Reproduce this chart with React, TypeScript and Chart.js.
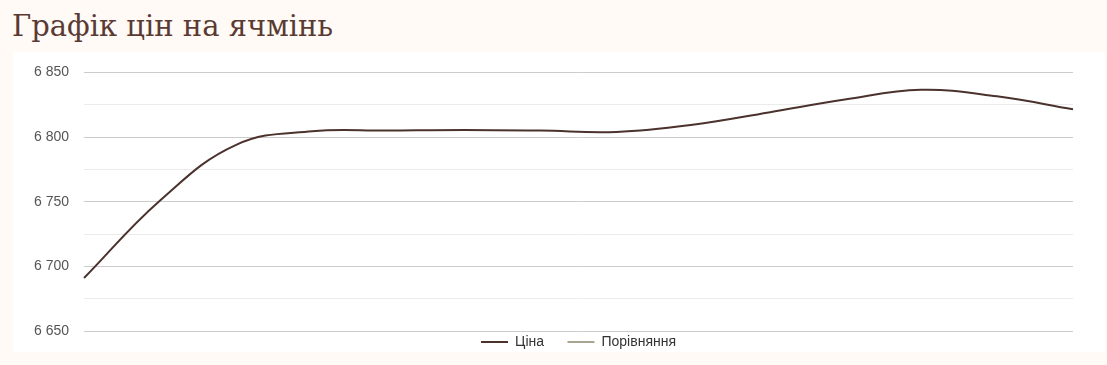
import React, { useEffect, useRef } from "react";
import { Chart, registerables } from "chart.js";

Chart.register(...registerables);

const TITLE = "Графік цін на ячмінь";
const categories = ["1", "2", "3", "4", "5", "6", "7", "8", "9", "10", "11", "12", "13", "14"];
const priceValues = [6691, 6751, 6794, 6804.5, 6805, 6805.5, 6805, 6804, 6809.5, 6819, 6829, 6836.5, 6831.5, 6821.5];
const compareValues: number[] = [];
const seriesNames = ["Ціна", "Порівняння"];
const yMin = 6650;
const yMax = 6850;
const yStep = 25;

function fmt(v: number) {
  return String(v).replace(/\B(?=(\d{3})+(?!\d))/g, " ");
}

export default function App() {
  const ref = useRef<HTMLCanvasElement | null>(null);
  useEffect(() => {
    document.body.style.margin = "0";
    const chart = new Chart(ref.current!, {
      type: "line",
      data: {
        labels: categories,
        datasets: [
          {
            label: seriesNames[0],
            data: priceValues,
            borderColor: "#4b322c",
            backgroundColor: "#4b322c",
            borderWidth: 2,
            pointRadius: 0,
            tension: 0.4,
            fill: false,
          },
          {
            label: seriesNames[1],
            data: compareValues,
            borderColor: "#a7a592",
            backgroundColor: "#a7a592",
            borderWidth: 2,
            pointRadius: 0,
            fill: false,
          },
        ],
      },
      options: {
        animation: false,
        responsive: false,
        maintainAspectRatio: false,
        layout: { padding: { left: 6, right: 32, top: 0, bottom: 0 } },
        plugins: {
          tooltip: { enabled: false },
          legend: {
            position: "bottom",
            fullSize: false,
            labels: {
              usePointStyle: true,
              pointStyle: "line",
              pointStyleWidth: 27,
              padding: 4,
              color: "#333",
              font: { family: "Liberation Sans, Arial, sans-serif", size: 14 },
              generateLabels: (c: any) =>
                Chart.defaults.plugins.legend.labels
                  .generateLabels(c)
                  .map((l: any, i: number) => (i === 0 ? { ...l, text: l.text + "     " } : l)),
            },
          },
        },
        scales: {
          x: { display: false },
          y: {
            min: yMin,
            max: yMax,
            border: { display: false },
            ticks: {
              stepSize: yStep,
              padding: 15,
              color: "#555",
              autoSkip: false,
              font: { family: "Liberation Sans, Arial, sans-serif", size: 14 },
              callback: (v: any) => (Number(v) % 50 === 0 ? fmt(Number(v)) : ""),
            },
            grid: {
              drawTicks: false,
              color: (ctx: any) => (ctx.tick && ctx.tick.value % 50 === 0 ? "#cccccc" : "#ebebeb"),
              lineWidth: 1,
            },
          },
        },
      },
    });
    return () => chart.destroy();
  }, []);

  return (
    <div style={{ position: "relative", width: 1107, height: 365, background: "#fffaf6", overflow: "hidden" }}>
      <div
        style={{
          position: "absolute",
          left: 12,
          top: 7,
          fontFamily: "DejaVu Serif, serif",
          fontSize: 29,
          color: "#5a3a32",
          lineHeight: "38px",
          whiteSpace: "nowrap",
        }}
      >
        {TITLE}
      </div>
      <div style={{ position: "absolute", left: 13, top: 52, width: 1092, height: 300, background: "#ffffff" }} />
      <canvas
        ref={ref}
        width={1092}
        height={310}
        style={{ display: "block", position: "absolute", left: 13, top: 49 }}
      />
    </div>
  );
}
